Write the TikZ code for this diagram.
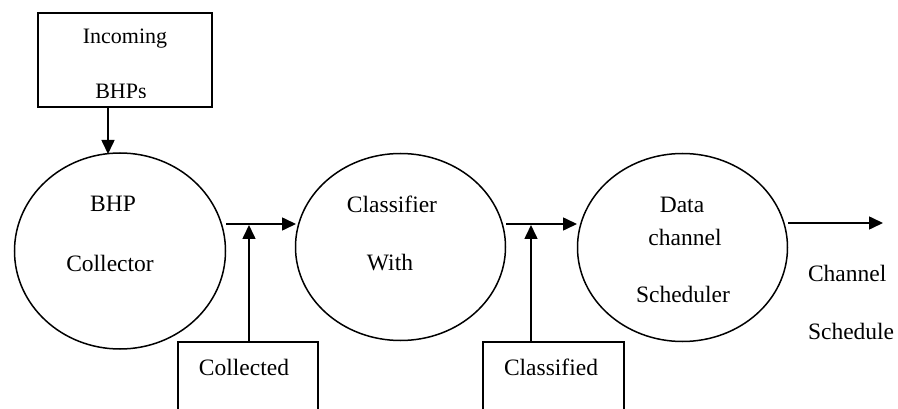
\documentclass[tikz,border=0pt]{standalone}
\usepackage{fontspec}
\setmainfont{Liberation Serif}
\usetikzlibrary{shapes.geometric,arrows.meta}
\begin{document}
\begin{tikzpicture}[x=1pt,y=-1pt,
  every node/.style={inner sep=0pt,outer sep=0pt},
  lbl/.style={font=\fontsize{23.5}{28}\selectfont},
  toplbl/.style={font=\fontsize{22}{26}\selectfont},
  proc/.style={draw,ellipse,line width=1.5pt},
  ln/.style={line width=1.6pt},
  arr/.style={line width=1.6pt,-{Triangle[length=14pt,width=13pt]}}]
\useasboundingbox (0,0) rectangle (898,409);
% top box
\node[draw,line width=1.5pt,minimum width=174pt,minimum height=94pt] (inbox) at (125,60) {};
\begin{scope}
\clip (40,15) rectangle (210,98);
\node[toplbl,anchor=base] (tIn) at (125,44) {Incoming};
\node[toplbl,anchor=base] (tBHPs) at (121,98.5) {BHPs};
\end{scope}
% ellipses
\node[proc,minimum width=211pt,minimum height=196pt] (e1) at (120,251) {};
\node[proc,minimum width=210pt,minimum height=187pt] (e2) at (400.5,247) {};
\node[proc,minimum width=210pt,minimum height=188pt] (e3) at (682.5,247.5) {};
\node[lbl] (t1a) at (113,204) {BHP};
\node[lbl] (t1b) at (110,263) {Collector};
\node[lbl] (t2a) at (392,204) {Classifier};
\node[lbl] (t2b) at (390,263) {With};
\node[lbl] (t3a) at (682,205) {Data};
\node[lbl] (t3b) at (685,237) {channel};
\node[lbl] (t3c) at (683,294) {Scheduler};
% output labels
\node[lbl,anchor=west] (o1) at (808,273) {Channel};
\node[lbl,anchor=west] (o2) at (808,331) {Schedule};
% bottom open boxes
\coordinate (c1tl) at (178,342); \coordinate (c1tr) at (318,342);
\coordinate (c1bl) at (178,409); \coordinate (c1br) at (318,409);
\coordinate (c2tl) at (483,342); \coordinate (c2tr) at (624,342);
\coordinate (c2bl) at (483,409); \coordinate (c2br) at (624,409);
\draw[ln] (c1bl) -- (c1tl) -- (c1tr) -- (c1br);
\draw[ln] (c2bl) -- (c2tl) -- (c2tr) -- (c2br);
\node[lbl] (tc1) at (244,367) {Collected};
\node[lbl] (tc2) at (551,367) {Classified};
% connectors
\coordinate (a0) at (108,107);
\coordinate (a0e) at (108,154);
\draw[arr] (a0) -- (a0e);
\coordinate (h1s) at (226,224); \coordinate (h1e) at (296,224);
\draw[arr] (h1s) -- (h1e);
\coordinate (v1s) at (249,342); \coordinate (v1e) at (249,225);
\draw[arr] (v1s) -- (v1e);
\coordinate (h2s) at (506,224); \coordinate (h2e) at (577,224);
\draw[arr] (h2s) -- (h2e);
\coordinate (v2s) at (531,342); \coordinate (v2e) at (531,225);
\draw[arr] (v2s) -- (v2e);
\coordinate (h3s) at (788,223); \coordinate (h3e) at (883,223);
\draw[arr] (h3s) -- (h3e);
\end{tikzpicture}
\end{document}
